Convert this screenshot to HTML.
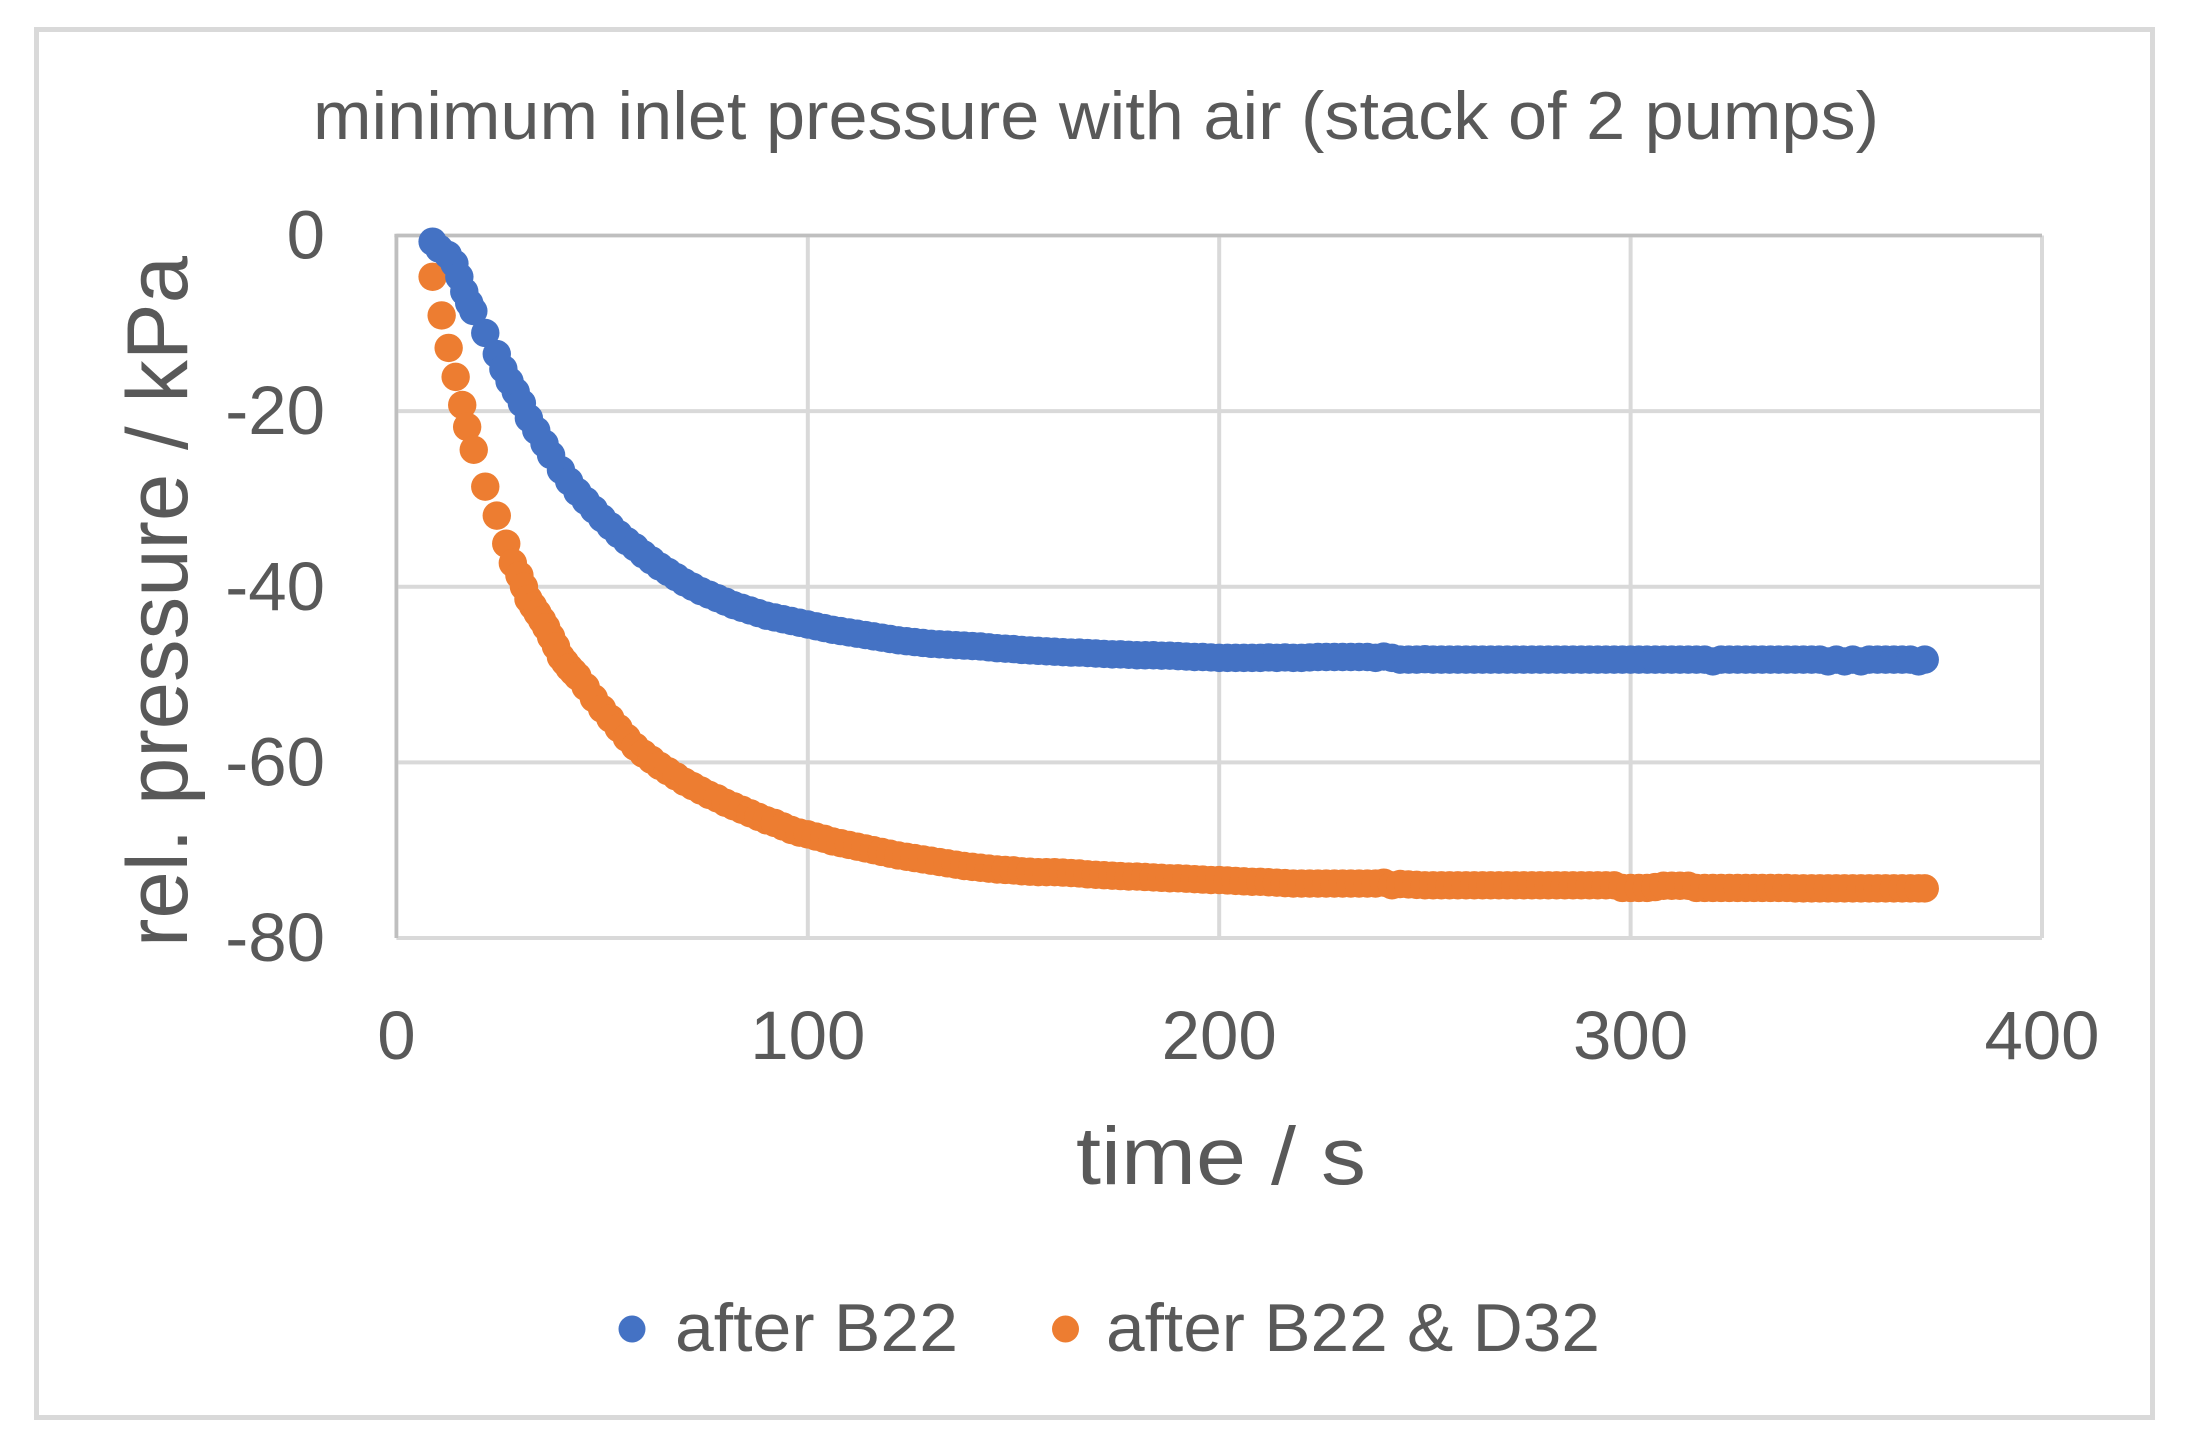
<!DOCTYPE html>
<html lang="en">
<head>
<meta charset="utf-8">
<title>minimum inlet pressure with air</title>
<style>
html,body{margin:0;padding:0;background:#fff;}
svg{display:block;}
text{font-family:"Liberation Sans",sans-serif;fill:#595959;}
</style>
</head>
<body>
<svg id="chart" width="2187" height="1445" viewBox="0 0 2187 1445" xmlns="http://www.w3.org/2000/svg">
  <rect x="36.5" y="29.5" width="2116" height="1388" fill="#fff" stroke="#d9d9d9" stroke-width="5"/>
  <text x="313" y="139" font-size="68" textLength="1566" lengthAdjust="spacingAndGlyphs">minimum inlet pressure with air (stack of 2 pumps)</text>
  <g id="grid"></g>
  <g id="ticks"></g>
  <g id="marks"></g>
  <text x="1076" y="1184" font-size="82" textLength="290" lengthAdjust="spacingAndGlyphs">time / s</text>
  <text transform="translate(187 947) rotate(-90)" font-size="86" textLength="691" lengthAdjust="spacingAndGlyphs">rel. pressure / kPa</text>
  <circle cx="632" cy="1329" r="13.5" fill="#4472c4"/>
  <text x="675" y="1351" font-size="68" textLength="283" lengthAdjust="spacingAndGlyphs">after B22</text>
  <circle cx="1065.5" cy="1329" r="13.5" fill="#ed7d31"/>
  <text x="1106" y="1351" font-size="68" textLength="494" lengthAdjust="spacingAndGlyphs">after B22 &amp; D32</text>
</svg>
<script>
const xTicks = [0, 100, 200, 300, 400];
const yTicks = [0, -20, -40, -60, -80];

const blueTime = [
8.8,10.4,12.5,14.1,15.3,16.5,17.7,18.7,21.6,24.4,
26,27.5,29,30.5,32.2,34,36,37.6,40,42,
44,46,48,50,52,54,56,58,60,62,
64,66,68,70,72,74,76,78,80,82,
84,86,88,90,92,94,96,98,
100,102,104,106,108,110,112,114,116,118,
120,122,124,126,128,130,132,134,136,138,
140,142,144,146,148,150,152,154,156,158,
160,162,164,166,168,170,172,174,176,178,
180,182,184,186,188,190,192,194,196,198,
200,202,204,206,208,210,212,214,216,218,
220,222,224,226,228,230,232,234,236,238,
240,242,244,246,248,250,252,254,256,258,
260,262,264,266,268,270,272,274,276,278,
280,282,284,286,288,290,292,294,296,298,
300,302,304,306,308,310,312,314,316,318,
320,322,324,326,328,330,332,334,336,338,
340,342,344,346,348,350,352,354,356,358,
360,362,364,366,368,370,371.5];
const blueValue = [
-0.7,-1.5,-2.2,-3.2,-4.7,-6.4,-7.7,-8.6,-11.1,-13.5,
-15.2,-16.6,-17.8,-19.1,-20.8,-22.2,-23.7,-25,-26.7,-28,
-29.2,-30.2,-31.2,-32.2,-33.1,-34,-34.8,-35.5,-36.3,-37,
-37.7,-38.3,-38.9,-39.5,-40,-40.5,-40.9,-41.3,-41.7,-42.1,
-42.4,-42.7,-43,-43.3,-43.5,-43.7,-43.9,-44.1,
-44.3,-44.5,-44.7,-44.9,-45.05,-45.2,-45.35,-45.5,-45.65,-45.8,
-45.95,-46.1,-46.2,-46.3,-46.4,-46.5,-46.55,-46.6,-46.65,-46.7,
-46.75,-46.8,-46.9,-47,-47.05,-47.1,-47.2,-47.25,-47.3,-47.35,
-47.4,-47.45,-47.5,-47.5,-47.55,-47.6,-47.65,-47.7,-47.7,-47.75,
-47.8,-47.8,-47.8,-47.85,-47.85,-47.9,-47.95,-48,-48,-48.05,
-48.1,-48.1,-48.1,-48.1,-48.1,-48.1,-48.05,-48.1,-48.05,-48.1,
-48.1,-48.05,-48,-48,-48,-48,-48,-48,-48,-48.1,
-47.95,-48.1,-48.3,-48.3,-48.3,-48.25,-48.3,-48.3,-48.3,-48.3,
-48.3,-48.3,-48.3,-48.3,-48.3,-48.3,-48.3,-48.3,-48.3,-48.3,
-48.3,-48.3,-48.3,-48.3,-48.3,-48.3,-48.3,-48.3,-48.3,-48.3,
-48.3,-48.3,-48.3,-48.3,-48.3,-48.3,-48.3,-48.3,-48.3,-48.3,
-48.5,-48.3,-48.3,-48.3,-48.3,-48.3,-48.3,-48.3,-48.3,-48.3,
-48.3,-48.3,-48.3,-48.3,-48.5,-48.3,-48.5,-48.3,-48.5,-48.3,
-48.3,-48.3,-48.3,-48.3,-48.3,-48.5,-48.3];

const orangeTime = [
8.8,11,12.7,14.4,16,17.2,18.8,21.6,24.4,26.7,
28.3,29.9,31,32.1,33.2,34.3,35.4,36.4,37.6,38.8,40,
41,42,43,44,46,48,50,52,54,56,
58,60,62,64,66,68,70,72,74,76,
78,80,82,84,86,88,90,92,94,96,
98,
100,102,104,106,108,110,112,114,116,118,
120,122,124,126,128,130,132,134,136,138,
140,142,144,146,148,150,152,154,156,158,
160,162,164,166,168,170,172,174,176,178,
180,182,184,186,188,190,192,194,196,198,
200,202,204,206,208,210,212,214,216,218,
220,222,224,226,228,230,232,234,236,238,
240,242,244,246,248,250,252,254,256,258,
260,262,264,266,268,270,272,274,276,278,
280,282,284,286,288,290,292,294,296,298,
300,302,304,306,308,310,312,314,316,318,
320,322,324,326,328,330,332,334,336,338,
340,342,344,346,348,350,352,354,356,358,
360,362,364,366,368,370,371.5];
const orangeValue = [
-4.7,-9.1,-12.8,-16.1,-19.3,-21.8,-24.4,-28.6,-31.9,-35.1,
-37.3,-38.7,-40,-41.4,-42.2,-43,-43.8,-44.6,-45.7,-46.8,-48,
-48.6,-49.2,-49.7,-50.2,-51.4,-52.7,-53.9,-55,-56.1,-57.2,
-58.2,-59,-59.7,-60.4,-61,-61.6,-62.2,-62.7,-63.2,-63.7,
-64.1,-64.6,-65,-65.4,-65.8,-66.2,-66.6,-66.9,-67.3,-67.7,
-68,
-68.2,-68.45,-68.7,-69,-69.2,-69.4,-69.6,-69.8,-70,-70.2,
-70.4,-70.6,-70.75,-70.9,-71.05,-71.2,-71.35,-71.5,-71.65,-71.8,
-71.9,-72,-72.1,-72.2,-72.25,-72.3,-72.4,-72.45,-72.5,-72.5,
-72.5,-72.55,-72.6,-72.65,-72.75,-72.8,-72.85,-72.9,-72.95,-73,
-73,-73.05,-73.1,-73.15,-73.2,-73.2,-73.25,-73.3,-73.35,-73.4,
-73.4,-73.45,-73.5,-73.55,-73.6,-73.6,-73.65,-73.7,-73.75,-73.8,
-73.8,-73.8,-73.8,-73.8,-73.8,-73.8,-73.8,-73.8,-73.8,-73.8,
-73.7,-74,-73.85,-73.9,-73.95,-74,-74,-74,-74,-74,
-74,-74,-74,-74,-74,-74,-74,-74,-74,-74,
-74,-74,-74,-74,-74,-74,-74,-74,-74,-74.3,
-74.3,-74.3,-74.3,-74.2,-74.05,-74.05,-74.05,-74.05,-74.3,-74.3,
-74.3,-74.3,-74.3,-74.3,-74.3,-74.3,-74.3,-74.3,-74.3,-74.3,
-74.35,-74.35,-74.35,-74.35,-74.35,-74.35,-74.35,-74.35,-74.35,-74.35,
-74.35,-74.35,-74.35,-74.35,-74.35,-74.35,-74.35];

const plotLeft = 396.4, plotRight = 2042, plotTop = 235.5, plotBottom = 938;
const xMin = 0, xMax = 400, yMin = -80, yMax = 0;
const markerRadius = 14.2;
const svgNS = 'http://www.w3.org/2000/svg';

function xScale(t) { return plotLeft + (t - xMin) / (xMax - xMin) * (plotRight - plotLeft); }
function yScale(v) { return plotTop + (yMax - v) / (yMax - yMin) * (plotBottom - plotTop); }

function makeLine(x1, y1, x2, y2, color, width) {
  const line = document.createElementNS(svgNS, 'line');
  line.setAttribute('x1', x1);
  line.setAttribute('y1', y1);
  line.setAttribute('x2', x2);
  line.setAttribute('y2', y2);
  line.setAttribute('stroke', color);
  line.setAttribute('stroke-width', width);
  return line;
}

const grid = document.getElementById('grid');
const ticks = document.getElementById('ticks');

yTicks.forEach(function (v) {
  const line = makeLine(plotLeft, yScale(v), plotRight, yScale(v), '#d9d9d9', 4);
  
  
  grid.appendChild(line);
  const label = document.createElementNS(svgNS, 'text');
  
  
  label.setAttribute('x', 325);
  label.setAttribute('y', yScale(v) + 23);
  label.setAttribute('font-size', 69);
  label.setAttribute('text-anchor', 'end');
  label.textContent = String(v);
  ticks.appendChild(label);
});

xTicks.forEach(function (t) {
  const line = makeLine(xScale(t), plotTop, xScale(t), plotBottom, '#d9d9d9', 4);
  
  
  grid.appendChild(line);
  const label = document.createElementNS(svgNS, 'text');
  
  
  label.setAttribute('x', xScale(t));
  label.setAttribute('y', 1059);
  label.setAttribute('font-size', 69);
  label.setAttribute('text-anchor', 'middle');
  label.textContent = String(t);
  ticks.appendChild(label);
});

const topAxis = makeLine(plotLeft - 2, yScale(yMax), plotRight, yScale(yMax), '#bfbfbf', 3.5);


grid.appendChild(topAxis);

const leftAxis = makeLine(xScale(xMin), plotTop, xScale(xMin), plotBottom, '#bfbfbf', 3.5);


grid.appendChild(leftAxis);

const marks = document.getElementById('marks');

orangeTime.forEach(function (t, i) {
  const dot = document.createElementNS(svgNS, 'circle');
  
  
  dot.setAttribute('cx', xScale(t));
  dot.setAttribute('cy', yScale(orangeValue[i]));
  dot.setAttribute('r', markerRadius);
  dot.setAttribute('fill', '#ed7d31');
  marks.appendChild(dot);
});

blueTime.forEach(function (t, i) {
  const dot = document.createElementNS(svgNS, 'circle');
  
  
  dot.setAttribute('cx', xScale(t));
  dot.setAttribute('cy', yScale(blueValue[i]));
  dot.setAttribute('r', markerRadius);
  dot.setAttribute('fill', '#4472c4');
  marks.appendChild(dot);
});
</script>
</body>
</html>
